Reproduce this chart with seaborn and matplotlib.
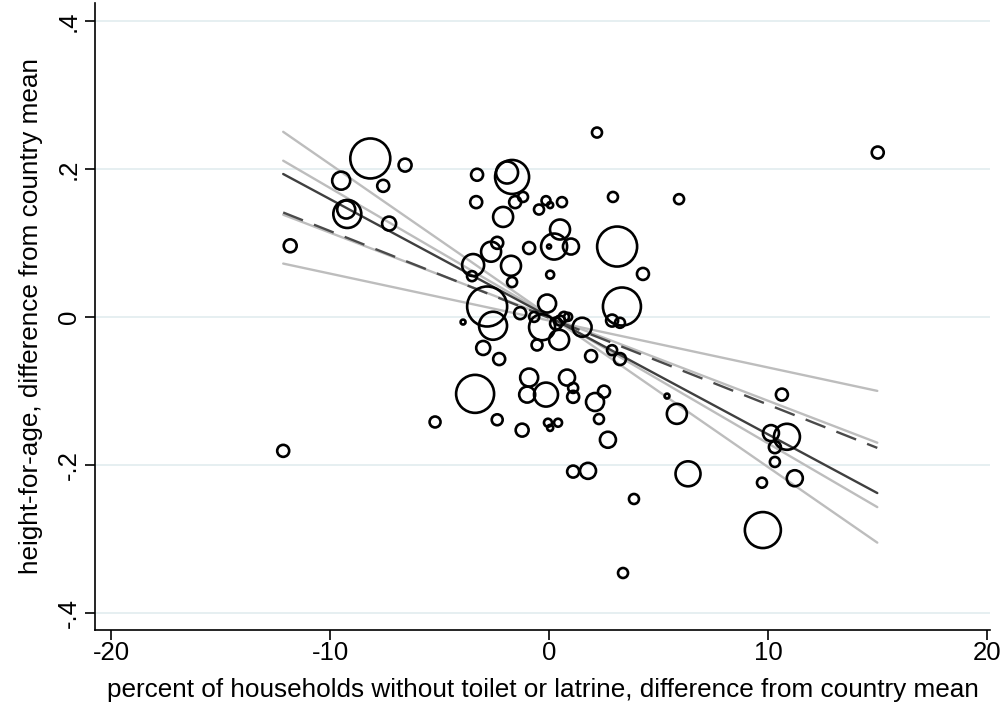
import matplotlib
matplotlib.use("Agg")
import matplotlib.pyplot as plt
import seaborn as sns
import pandas as pd

# percent of households without toilet/latrine (difference from country mean)
toilet_diff = [
    -12.15, -11.83, -8.17, -6.58, -9.50, -7.58, -9.22, -9.27, -7.31, -3.47,
    -3.52, -3.29, -3.33, -1.92, -1.69, -1.55, -1.19, -2.10, -2.65, -2.37,
    -1.74, -1.69, -2.83, -0.46, -0.14, 0.05, 0.59, 0.50, 0.23, 0.00,
    1.00, -0.91, 0.05, 3.11, 4.29, 2.19, 2.92, 5.94, 3.33, -0.09,
    -1.32, -2.56, -3.93, -0.68, -0.32, -0.55, -3.01, -2.28, -3.38, -0.91,
    -1.00, -0.14, 2.88, 3.24, 1.51, 0.32, 0.50, 0.68, 0.87, 0.46,
    1.92, 2.88, 3.24, 0.82, 1.10, 1.10, 2.10, 2.51, 5.39, 5.84,
    -5.21, -2.37, -1.23, -0.05, 0.05, 0.41, 2.28, 2.69, 1.10, 1.78,
    3.88, 3.38, 6.35, 15.02, 10.64, 10.14, 10.87, 10.32, 10.32, 11.23,
    9.73, 9.77,
]

# height-for-age (difference from country mean)
hfa_diff = [
    -0.181, 0.096, 0.214, 0.205, 0.184, 0.177, 0.139, 0.145, 0.126, 0.070,
    0.055, 0.192, 0.155, 0.195, 0.189, 0.155, 0.162, 0.135, 0.088, 0.100,
    0.069, 0.047, 0.014, 0.145, 0.157, 0.151, 0.155, 0.118, 0.095, 0.095,
    0.095, 0.093, 0.057, 0.095, 0.058, 0.249, 0.162, 0.159, 0.014, 0.018,
    0.005, -0.012, -0.007, 0.000, -0.014, -0.038, -0.042, -0.057, -0.104, -0.082,
    -0.105, -0.105, -0.005, -0.008, -0.014, -0.009, -0.005, 0.000, 0.000, -0.031,
    -0.053, -0.045, -0.057, -0.082, -0.096, -0.108, -0.115, -0.101, -0.107, -0.131,
    -0.142, -0.139, -0.153, -0.143, -0.150, -0.143, -0.138, -0.166, -0.209, -0.208,
    -0.246, -0.346, -0.212, 0.222, -0.105, -0.157, -0.162, -0.176, -0.196, -0.218,
    -0.224, -0.288,
]

# circle weights (population)
weight = [
    36, 42, 400, 42, 81, 36, 196, 81, 49, 121,
    25, 36, 36, 121, 289, 36, 25, 100, 100, 36,
    100, 25, 400, 25, 20, 9, 25, 100, 169, 4,
    64, 36, 16, 400, 36, 25, 25, 25, 361, 81,
    36, 196, 6, 25, 169, 30, 49, 36, 361, 81,
    64, 144, 36, 25, 90, 36, 25, 25, 16, 100,
    36, 25, 36, 64, 25, 36, 81, 36, 6, 100,
    30, 30, 42, 16, 9, 16, 25, 64, 36, 64,
    25, 25, 156, 36, 36, 64, 169, 36, 25, 64,
    25, 324,
]

# fitted lines, evaluated at the ends of the data range
fit_x = [-12.15, 15.0]
fit_solid = [0.193, -0.238]
fit_dashed = [0.141, -0.177]
ci_a = [0.250, -0.305]
ci_b = [0.211, -0.257]
ci_c = [0.138, -0.170]
ci_d = [0.072, -0.100]

df = pd.DataFrame({"toilet": toilet_diff, "hfa": hfa_diff, "weight": weight})

sns.set_theme(style="white")
plt.rcParams["font.family"] = ["Liberation Sans", "DejaVu Sans"]

fig = plt.figure(figsize=(10.08, 7.03), dpi=100)
ax = fig.add_axes([95 / 1008, 1 - 630 / 703, 895 / 1008, 627 / 703])

for yv in [-0.4, -0.2, 0, 0.2, 0.4]:
    ax.axhline(yv, color="#e6eff1", lw=1.4, zorder=0)

for band in [ci_a, ci_b, ci_c, ci_d]:
    sns.lineplot(x=fit_x, y=band, color="#bdbdbd", lw=1.7, ax=ax, zorder=1)
sns.lineplot(x=fit_x, y=fit_solid, color="#3f3f3f", lw=1.7, ax=ax, zorder=2)
sns.lineplot(x=fit_x, y=fit_dashed, color="#4a4a4a", lw=1.7, ax=ax, zorder=2,
             dashes=False, linestyle=(0, (9, 5)))

sns.scatterplot(
    data=df, x="toilet", y="hfa", size="weight",
    sizes=(0, 829), size_norm=(0, 400),
    color="black", facecolor="none", edgecolor="black", linewidth=1.9,
    legend=False, ax=ax, zorder=3,
)

ax.set_xlim(-20.75, 20.15)
ax.set_ylim(-0.423, 0.424)
ax.set_xticks([-20, -10, 0, 10, 20])
ax.set_xticklabels(["-20", "-10", "0", "10", "20"])
ax.set_yticks([-0.4, -0.2, 0, 0.2, 0.4])
ax.set_yticklabels(["-.4", "-.2", "0", ".2", ".4"], rotation=90, va="center")
ax.tick_params(axis="both", direction="out", length=7, width=1.2, color="black",
               labelsize=18.5, labelcolor="black", pad=3, left=True, bottom=True)
ax.tick_params(axis="x", pad=1)

for side in ["top", "right"]:
    ax.spines[side].set_visible(False)
for side in ["left", "bottom"]:
    ax.spines[side].set_color("black")
    ax.spines[side].set_linewidth(1.2)

ax.set_xlabel("percent of households without toilet or latrine, difference from country mean",
              fontsize=18.8, color="black", labelpad=9)
ax.set_ylabel("height-for-age, difference from country mean", fontsize=18.8, color="black",
              labelpad=10)

fig.savefig("out.png", dpi=100, facecolor="white")
